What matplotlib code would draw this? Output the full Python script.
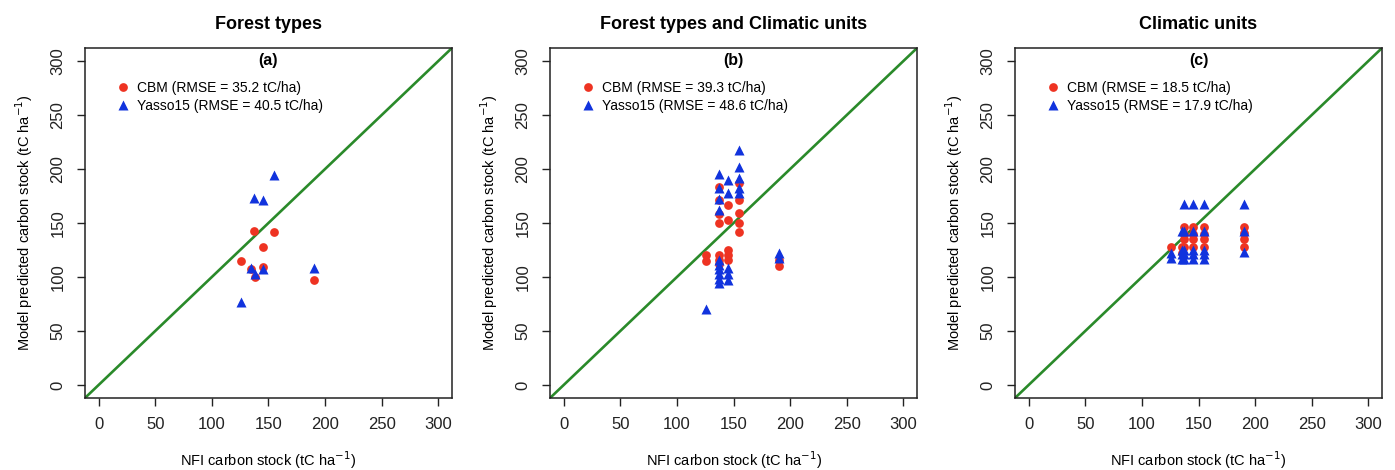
import numpy as np
import matplotlib.pyplot as plt
import matplotlib as mpl

mpl.rcParams['font.family'] = ['Liberation Sans', 'DejaVu Sans']
mpl.rcParams['font.size'] = 10.5

#%% data

titles = ['Forest types', 'Forest types and Climatic units', 'Climatic units']
tags = ['(a)', '(b)', '(c)']
rmse_cbm = [35.2, 39.3, 18.5]
rmse_yasso = [40.5, 48.6, 17.9]

# (a) forest types
a_cbm_x = [126, 135, 137, 138, 145, 145, 155, 190]
a_cbm_y = [115, 107, 143, 100, 128, 109, 142, 97]
a_yasso_x = [126, 135, 137, 138, 145, 145, 155, 190]
a_yasso_y = [77, 108, 173, 103, 171, 107, 194, 108]

# (b) forest types x climatic units
b_cbm_x = [126, 126,
           137, 137, 137, 137, 137, 137, 137,
           145, 145, 145, 145, 145,
           155, 155, 155, 155, 155,
           190, 190]
b_cbm_y = [120, 115,
           183, 171, 158, 150, 120, 116, 112,
           167, 153, 125, 120, 116,
           187, 171, 159, 150, 142,
           116, 110]
b_yasso_x = [126,
             137, 137, 137, 137, 137, 137, 137, 137, 137, 137,
             145, 145, 145, 145, 145,
             155, 155, 155, 155, 155,
             190, 190]
b_yasso_y = [70,
             195, 182, 172, 162, 116, 111, 107, 103, 98, 94,
             190, 178, 108, 103, 97,
             218, 202, 192, 182, 178,
             122, 118]

# (c) climatic units
c_cbm_x = [126, 135, 135,
           137, 137, 137, 137,
           145, 145, 145, 145,
           155, 155, 155, 155,
           190, 190, 190, 190]
c_cbm_y = [128, 128, 122,
           146, 140, 135, 128,
           146, 140, 135, 128,
           146, 140, 135, 128,
           146, 141, 135, 128]
c_yasso_x = [126, 126,
             135, 135, 135, 135,
             137, 137, 137, 137, 137,
             145, 145, 145, 145, 145,
             155, 155, 155, 155, 155,
             190, 190, 190]
c_yasso_y = [122, 118,
             143, 125, 121, 117,
             168, 143, 125, 121, 117,
             168, 143, 125, 121, 117,
             168, 143, 125, 121, 117,
             168, 143, 123]

panels = [(a_cbm_x, a_cbm_y, a_yasso_x, a_yasso_y),
          (b_cbm_x, b_cbm_y, b_yasso_x, b_yasso_y),
          (c_cbm_x, c_cbm_y, c_yasso_x, c_yasso_y)]

ticks = [0, 50, 100, 150, 200, 250, 300]

#%% plot

fig = plt.figure(figsize=(13.95, 4.70), dpi=100)
lefts = [0.0609, 0.3943, 0.7276]

for i, (cx, cy, yx, yy) in enumerate(panels):
    ax = fig.add_axes([lefts[i], 0.1532, 0.2631, 0.7447])
    ax.set_xlim(-12, 312)
    ax.set_ylim(-12, 312)
    ax.axline((0, 0), slope=1, color='#2A8A2A', lw=1.9, zorder=1)
    ax.plot(cx, cy, 'o', color='#EE3322', ms=6.3, mec='none', zorder=2,
            label='CBM (RMSE = %.1f tC/ha)' % rmse_cbm[i])
    ax.plot(yx, yy, '^', color='#1133DD', ms=7.8, mec='none', zorder=3,
            label='Yasso15 (RMSE = %.1f tC/ha)' % rmse_yasso[i])
    ax.text(150, 300, tags[i], ha='center', va='center', fontweight='bold',
            fontsize=11.5)
    ax.legend(loc='upper left', bbox_to_anchor=(0.084, 0.905), frameon=False,
              fontsize=10, handlelength=1, handletextpad=0.5,
              borderpad=0, borderaxespad=0, labelspacing=0.25, numpoints=1)

    ax.set_xticks(ticks)
    ax.set_yticks(ticks)
    ax.set_yticklabels([str(t) for t in ticks], rotation=90, va='center')
    ax.tick_params(direction='out', length=6, width=1, pad=8, colors='#222222',
                   labelcolor='#222222', labelsize=12)
    for s in ax.spines.values():
        s.set_linewidth(1.1)
        s.set_color('#222222')
    ax.set_xlabel('NFI carbon stock (tC ha$^{-1}$)', labelpad=12)
    ax.set_ylabel('Model predicted carbon stock (tC ha$^{-1}$)', labelpad=11)
    ax.set_title(titles[i], fontsize=13, fontweight='bold', pad=14)

fig.savefig('out.png', dpi=100)
